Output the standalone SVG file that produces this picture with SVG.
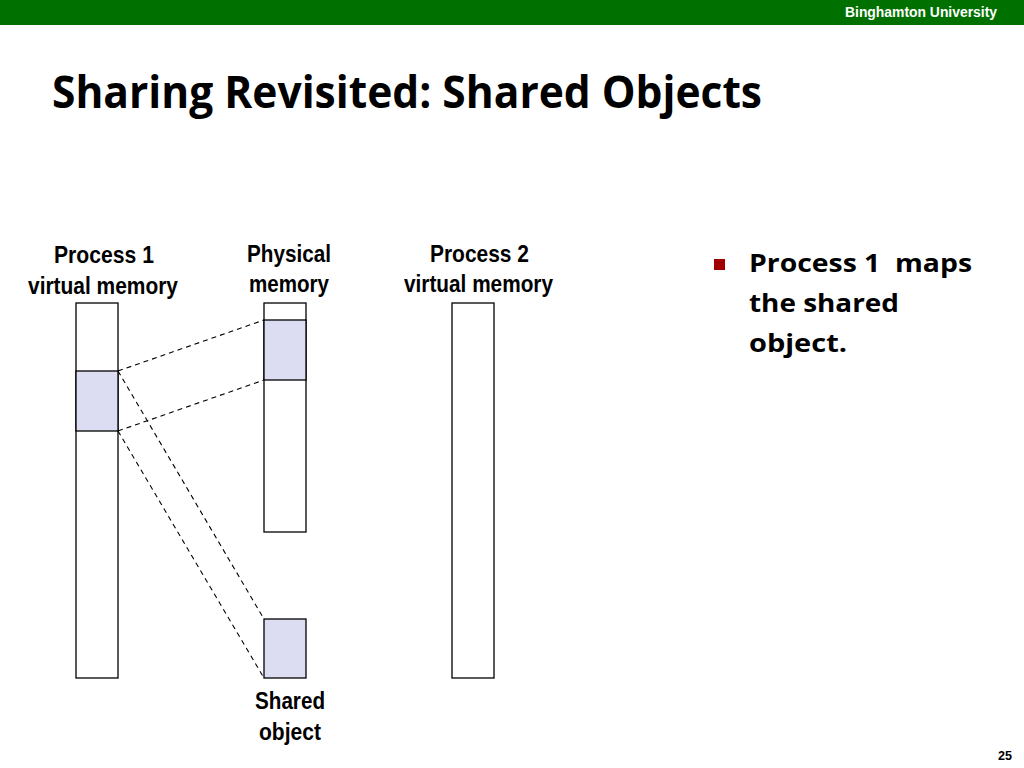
<svg xmlns="http://www.w3.org/2000/svg" width="1024" height="768" viewBox="0 0 1024 768">
<style>
.lbl{font-family:"Liberation Sans",Arial,sans-serif;font-weight:bold;font-size:24px;fill:#000}
.cal{font-family:"Open Sans","Noto Sans",sans-serif;font-weight:bold;fill:#000}
.box{fill:#fff;stroke:#000;stroke-width:1.3}
.sh{fill:#dcdcf2;stroke:#000;stroke-width:1.3}
.dash{stroke:#000;stroke-width:1.1;stroke-dasharray:5,4;fill:none}
</style>
<rect x="0" y="0" width="1024" height="768" fill="#fff"/>
<rect x="0" y="0" width="1024" height="25" fill="#007000"/>
<text x="845" y="17" font-family="Liberation Sans,Arial,sans-serif" font-weight="bold" font-size="14" fill="#fff" textLength="152" lengthAdjust="spacingAndGlyphs">Binghamton University</text>
<text class="cal" x="52" y="108" font-size="44" textLength="710" lengthAdjust="spacingAndGlyphs">Sharing Revisited: Shared Objects</text>

<g id="p1-label">
<text class="lbl" x="54" y="263" textLength="100" lengthAdjust="spacingAndGlyphs">Process 1</text>
<text class="lbl" x="28" y="294" textLength="150" lengthAdjust="spacingAndGlyphs">virtual memory</text>
</g>
<g id="phys-label">
<text class="lbl" x="247" y="262" textLength="84" lengthAdjust="spacingAndGlyphs">Physical</text>
<text class="lbl" x="249" y="292" textLength="80" lengthAdjust="spacingAndGlyphs">memory</text>
</g>
<g id="p2-label">
<text class="lbl" x="430" y="262" textLength="99" lengthAdjust="spacingAndGlyphs">Process 2</text>
<text class="lbl" x="404" y="292" textLength="149" lengthAdjust="spacingAndGlyphs">virtual memory</text>
</g>

<g id="p1-vm">
<rect class="box" x="76" y="303" width="42" height="375"/>
<rect class="sh" x="76" y="371" width="42" height="60"/>
</g>
<g id="phys-mem">
<rect class="box" x="264" y="303" width="42" height="229"/>
<rect class="sh" x="264" y="320" width="42" height="60"/>
</g>
<g id="shared-obj">
<rect class="sh" x="264" y="619" width="42" height="59"/>
<text class="lbl" x="255" y="709" textLength="70" lengthAdjust="spacingAndGlyphs">Shared</text>
<text class="lbl" x="259" y="740" textLength="62" lengthAdjust="spacingAndGlyphs">object</text>
</g>
<g id="p2-vm">
<rect class="box" x="452" y="303" width="42" height="375"/>
</g>

<g id="connectors">
<line class="dash" x1="118" y1="371" x2="264" y2="320"/>
<line class="dash" x1="118" y1="431" x2="264" y2="380"/>
<line class="dash" x1="118" y1="371" x2="264" y2="619"/>
<line class="dash" x1="118" y1="431" x2="264" y2="678"/>
</g>

<g id="bullet">
<rect x="714" y="259" width="11" height="11" fill="#a00000"/>
<text class="cal" x="749" y="272" font-size="25" textLength="223" lengthAdjust="spacingAndGlyphs" xml:space="preserve">Process 1  maps</text>
<text class="cal" x="749" y="312" font-size="25" textLength="150" lengthAdjust="spacingAndGlyphs">the shared</text>
<text class="cal" x="749" y="352" font-size="25" textLength="98" lengthAdjust="spacingAndGlyphs">object.</text>
</g>
<text x="998" y="760" font-family="Liberation Sans,Arial,sans-serif" font-weight="bold" font-size="13" fill="#000" textLength="14" lengthAdjust="spacingAndGlyphs">25</text>
</svg>
